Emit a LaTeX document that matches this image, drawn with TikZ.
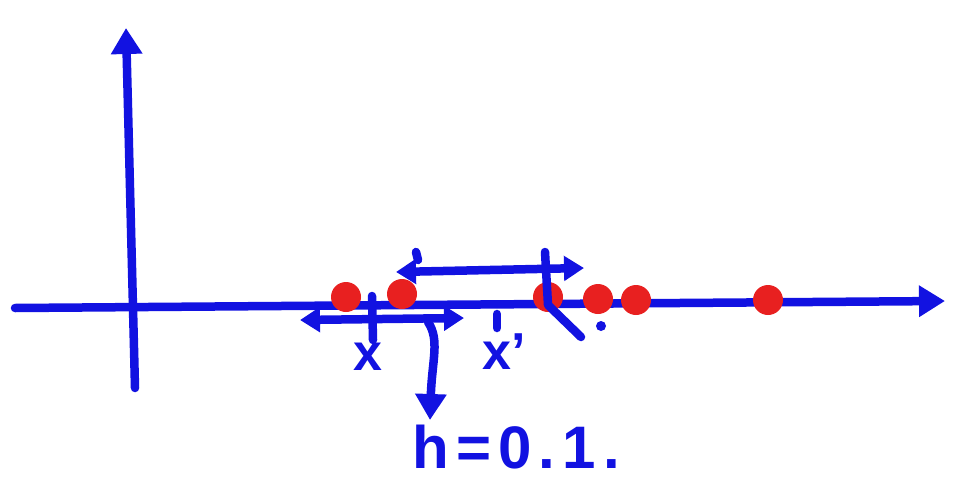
\documentclass[tikz,border=0pt]{standalone}
\usepackage{fontspec}
\setmainfont{Liberation Sans}
\usetikzlibrary{arrows.meta}
\definecolor{pen}{RGB}{18,18,225}
\definecolor{dotred}{RGB}{232,32,32}
\tikzset{
  stroke/.style={draw=pen, line width=8.5pt, line cap=round, line join=round},
  tip/.style={-{Triangle[length=26pt,width=30pt]}},
  dtip/.style={{Triangle[length=20pt,width=24pt]}-{Triangle[length=20pt,width=24pt]}},
  dotnode/.style={circle, fill=dotred, inner sep=0pt, minimum size=30pt},
  lbl/.style={text=pen, font=\bfseries\fontsize{52}{52}\selectfont, inner sep=0pt},
}
\begin{document}
\begin{tikzpicture}[x=1pt,y=-1pt]
\useasboundingbox (0,0) rectangle (955,479);
% axes
\coordinate (xl) at (15,308);
\coordinate (xr) at (945,301);
\coordinate (yb) at (135,388);
\coordinate (yt) at (126,28);
\draw[stroke, tip] (xl) -- (xr);
\draw[stroke, tip] (yb) -- (yt);
% red dots
\node[dotnode] (d1) at (346,297) {};
\node[dotnode] (d2) at (402,294) {};
\node[dotnode] (d3) at (548,297) {};
\node[dotnode] (d4) at (598,299) {};
\node[dotnode] (d5) at (636,300) {};
\node[dotnode] (d6) at (768,300) {};
% upper double arrow
\coordinate (ua) at (396,272);
\coordinate (ub) at (584,268);
\draw[stroke, dtip] (ua) -- (ub);
\coordinate (t1a) at (416,252);
\coordinate (t1b) at (418,260);
\draw[stroke] (t1a) -- (t1b);
% tick at x+h with k-like stroke
\coordinate (k1) at (545,252);
\coordinate (k2) at (548,305);
\coordinate (k3) at (581,337);
\draw[stroke] (k1) -- (k2) -- (k3);
\node[circle, fill=pen, inner sep=0pt, minimum size=10pt] (pd) at (601,326) {};
% lower double arrow
\coordinate (la) at (300,320);
\coordinate (lb) at (464,318);
\draw[stroke, dtip] (la) -- (lb);
\coordinate (v1a) at (372,296);
\coordinate (v1b) at (373,340);
\draw[stroke] (v1a) -- (v1b);
% tick for x'
\coordinate (v2a) at (497,314);
\coordinate (v2b) at (497,328);
\draw[stroke] (v2a) -- (v2b);
% curved arrow to h label
\coordinate (ca) at (428,322);
\coordinate (cb) at (430,420);
\draw[stroke, tip] (ca) .. controls (440,340) and (432,360) .. (cb);
% labels
\node[lbl] (lx) at (368,357) {x};
\node[lbl] (lxp) at (504,352) {x'};
\node[lbl, anchor=base west, font=\bfseries\fontsize{60}{60}\selectfont\addfontfeature{LetterSpace=12}] (lh) at (412,468) {h=0.1.};
\end{tikzpicture}
\end{document}
